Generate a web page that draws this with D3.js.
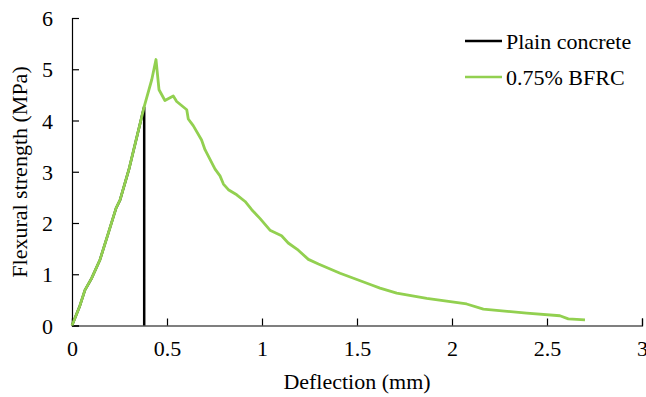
<!DOCTYPE html>
<html>
<head>
<meta charset="utf-8">
<script src="https://cdn.jsdelivr.net/npm/d3@7"></script>
<style>
  body { margin: 0; background: #fff; }
</style>
</head>
<body>
<script>
// data
const plainDeflection = [0, 0.04, 0.068, 0.103, 0.147, 0.191, 0.232, 0.253, 0.30, 0.38, 0.38]
const plainStrength   = [0, 0.37, 0.69, 0.92, 1.28, 1.80, 2.29, 2.45, 3.05, 4.27, 0]

const bfrcDeflection = [0, 0.04, 0.068, 0.103, 0.147, 0.191, 0.232, 0.253, 0.30, 0.38, 0.42, 0.442,
  0.458, 0.489, 0.533, 0.551, 0.604, 0.612, 0.638, 0.682, 0.700, 0.753, 0.779, 0.797, 0.823,
  0.867, 0.911, 0.946, 0.989, 1.042, 1.103, 1.138, 1.191, 1.244, 1.297, 1.411, 1.577, 1.621,
  1.709, 1.867, 2.077, 2.165, 2.393, 2.568, 2.612, 2.70]
const bfrcStrength = [0, 0.37, 0.69, 0.92, 1.28, 1.80, 2.29, 2.45, 3.05, 4.27, 4.80, 5.19,
  4.60, 4.39, 4.48, 4.37, 4.21, 4.03, 3.90, 3.62, 3.43, 3.05, 2.92, 2.76, 2.65,
  2.55, 2.42, 2.26, 2.09, 1.86, 1.75, 1.61, 1.47, 1.29, 1.20, 1.02, 0.79, 0.73,
  0.63, 0.53, 0.42, 0.32, 0.24, 0.19, 0.13, 0.11]

const xTicks = [0, 0.5, 1, 1.5, 2, 2.5, 3]
const yTicks = [0, 1, 2, 3, 4, 5, 6]

const seriesNames = ["Plain concrete", "0.75% BFRC"]
const seriesColors = ["#000000", "#92D050"]

const serif = 'Liberation Serif'
const fontSize = 22

function drawChart() {

    const width = 646, height = 397

    const svg = d3.select('body').append('svg')
        .attr('width', width)
        .attr('height', height)
        .attr('font-family', serif)

    const x = d3.scaleLinear().domain([0, 3]).range([72, 642])
    const y = d3.scaleLinear().domain([0, 6]).range([325.5, 18])

    // axes, ticks point inward
    const xAxis = svg.append('g')
        .attr('transform', getTranslateString(0, y(0)))
        .call(d3.axisBottom(x).tickValues(xTicks).tickSize(-7).tickPadding(15)
            .tickFormat(d => d3.format('~g')(d)))
    const yAxis = svg.append('g')
        .attr('transform', getTranslateString(x(0), 0))
        .call(d3.axisLeft(y).tickValues(yTicks).tickSize(-7).tickPadding(19)
            .tickFormat(d3.format('d')))

    for (const ax of [xAxis, yAxis]) {
        ax.attr('font-family', serif).attr('font-size', fontSize)
        ax.select('.domain').attr('stroke', '#000').attr('stroke-width', 1.2)
        ax.selectAll('.tick line').attr('stroke', '#000').attr('stroke-width', 1.2)
        ax.selectAll('.tick text')
            .attr('font-family', serif)
            .attr('font-size', fontSize)
            .attr('fill', '#000')
    }
    yAxis.selectAll('.tick text').attr('dy', '0.35em')

    const line = d3.line()
        .x(d => x(d[0]))
        .y(d => y(d[1]))

    const plainData = d3.zip(plainDeflection, plainStrength)
    const bfrcData = d3.zip(bfrcDeflection, bfrcStrength)

    svg.append('path')
        .datum(plainData)
        .attr('d', line)
        .attr('fill', 'none')
        .attr('stroke', seriesColors[0])
        .attr('stroke-width', 2.5)

    svg.append('path')
        .datum(bfrcData)
        .attr('d', line)
        .attr('fill', 'none')
        .attr('stroke', seriesColors[1])
        .attr('stroke-width', 2.8)
        .attr('stroke-linejoin', 'round')

    // axis titles
    svg.append('text')
        .attr('x', 357)
        .attr('y', 389)
        .attr('text-anchor', 'middle')
        .attr('font-family', serif)
        .attr('font-size', fontSize)
        .text('Deflection (mm)')

    svg.append('text')
        .attr('transform', getTranslateString(27, 172) + ' rotate(-90)')
        .attr('text-anchor', 'middle')
        .attr('font-family', serif)
        .attr('font-size', fontSize)
        .text('Flexural strength (MPa)')

    // legend
    const legend = svg.append('g')
        .selectAll('g')
        .data(seriesNames)
        .join('g')
        .attr('transform', (d, i) => getTranslateString(465, 41 + i * 36))

    legend.append('line')
        .attr('x1', 0).attr('x2', 37)
        .attr('y1', 0).attr('y2', 0)
        .attr('stroke', (d, i) => seriesColors[i])
        .attr('stroke-width', 2.5)

    legend.append('text')
        .attr('x', 41)
        .attr('dy', '0.35em')
        .attr('font-family', serif)
        .attr('font-size', fontSize)
        .text(d => d)
}

function getTranslateString(x, y){
    return 'translate(' + x + ',' + y + ')'
}

drawChart()
</script>
</body>
</html>
